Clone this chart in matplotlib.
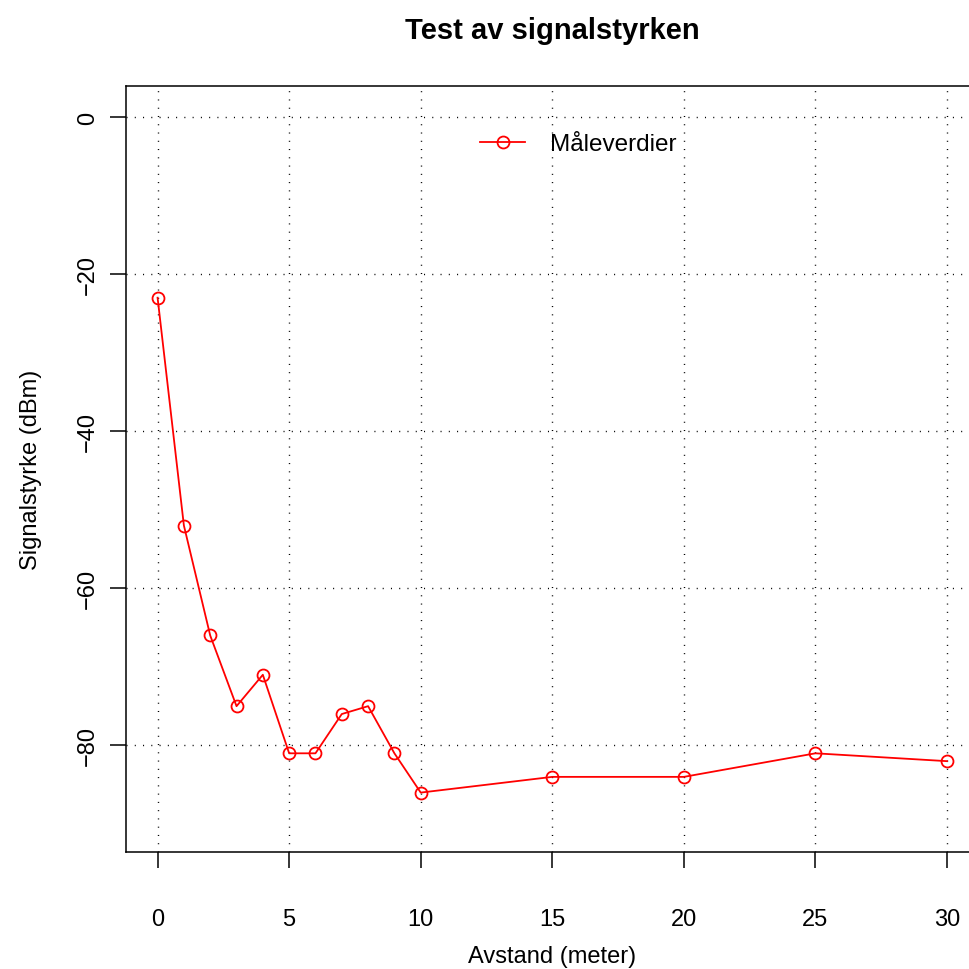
import numpy as np
import matplotlib
matplotlib.use("Agg")
import matplotlib.pyplot as plt

plt.rcParams['font.family'] = ['Liberation Sans', 'DejaVu Sans']

avstand = [0, 1, 2, 3, 4, 5, 6, 7, 8, 9, 10, 15, 20, 25, 30]
signal = [-23, -52, -66, -75, -71, -81, -81, -76, -75, -81, -86, -84, -84, -81, -82]
xticks = [0, 5, 10, 15, 20, 25, 30]
yticks = [-80, -60, -40, -20, 0]

W, H = 969, 970
fig = plt.figure(figsize=(W / 100, H / 100), dpi=100)
left, right, top, bottom = 126, 978.6, 87, 852.5
ax = fig.add_axes([left / W, 1 - bottom / H, (right - left) / W, (bottom - top) / H])

ax.plot(avstand, signal, color='red', lw=1.3, marker='o', ms=8.6,
        mfc='none', mec='red', mew=1.3, label='Måleverdier', zorder=3)

ax.set_xlim(-1.2, 31.2)
ax.set_ylim(-93.5, 3.95)
ax.set_xticks(xticks)
ax.set_yticks(yticks)
ax.grid(True, color='black', lw=1.0, linestyle=(0, (0.75, 5.2)))
ax.tick_params(direction='out', length=11.5, width=1.1, labelsize=17)
ax.tick_params(axis='x', pad=29.5)
ax.tick_params(axis='y', pad=8)
for lbl in ax.get_yticklabels():
    lbl.set_rotation(90)
    lbl.set_va('center')
for s in ax.spines.values():
    s.set_linewidth(1.1)

# axis label positions fixed in figure pixels (R-style margins)
fig.text(552 / W, 1 - 957 / H, 'Avstand (meter)', fontsize=17,
         ha='center', va='center')
ax.set_ylabel('Signalstyrke (dBm)', fontsize=17, labelpad=25.5)
fig.text(552 / W, 1 - 31 / H, 'Test av signalstyrken', fontsize=21,
         fontweight='bold', ha='center', va='center')

ax.legend(loc='center left', bbox_to_anchor=(480 / W, 1 - 145 / H),
          bbox_transform=fig.transFigure, frameon=False, borderpad=0,
          borderaxespad=0, fontsize=17.5, handlelength=1.86, handletextpad=1.0)

fig.savefig('out.png', dpi=100)
